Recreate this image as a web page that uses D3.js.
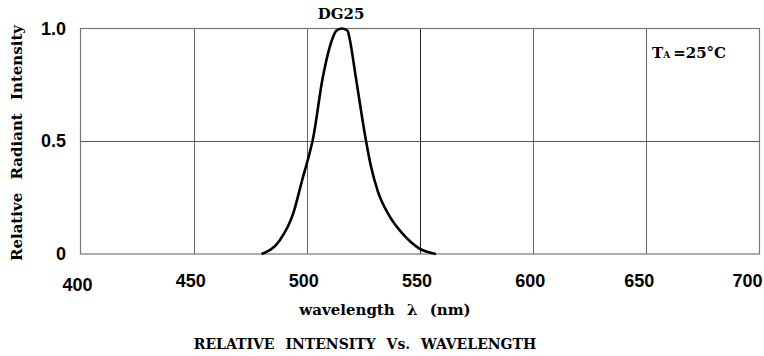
<!DOCTYPE html>
<html>
<head>
<meta charset="utf-8">
<script src="https://cdn.jsdelivr.net/npm/d3@7"></script>
<style>
  body { margin: 0; background: #fff; }
  text { fill: #000; }
  .serif { font-family: "DejaVu Serif", serif; font-weight: bold; }
  .sans { font-family: "Liberation Sans", Arial, sans-serif; font-weight: bold; }
</style>
</head>
<body>
<svg id="chart" width="764" height="356"></svg>
<script>
// spectrum of DG25
const wavelength = [480, 488, 494, 498, 500.5, 502.7, 507, 511.5, 513, 515.5, 518, 518.8, 521.7, 526, 528.3, 531.3, 536.4, 542.3, 549.6, 557];
const intensity = [0, 0.06, 0.18, 0.33, 0.42, 0.51, 0.78, 0.96, 0.99, 1.0, 0.99, 0.96, 0.78, 0.51, 0.39, 0.28, 0.17, 0.09, 0.025, 0];

const xTicks = [400, 450, 500, 550, 600, 650, 700];
const yTicks = [0, 0.5, 1.0];
const yTickLabels = ["0", "0.5", "1.0"];

const svg = d3.select("#chart");

// plot box
const plotL = 80.5, plotR = 759.5, plotT = 28.5, plotB = 254;

const x = d3.scaleLinear().domain([400, 700]).range([plotL, plotR]);
const y = d3.scaleLinear().domain([0, 1]).range([plotB, plotT]);

// grid lines
svg.append("g")
  .selectAll("line")
  .data(xTicks.slice(1, -1))
  .enter()
  .append("line")
  .attr("x1", (d) => Math.round(x(d)) + 0.5)
  .attr("x2", (d) => Math.round(x(d)) + 0.5)
  .attr("y1", plotT)
  .attr("y2", plotB)
  .attr("stroke", (d) => (d === 550 ? "#222" : "#666"))
  .attr("stroke-width", 1);

svg.append("line")
  .attr("x1", plotL).attr("x2", plotR)
  .attr("y1", Math.round(y(0.5)) + 0.5).attr("y2", Math.round(y(0.5)) + 0.5)
  .attr("stroke", "#555");

// frame
svg.append("rect")
  .attr("x", plotL).attr("y", plotT)
  .attr("width", plotR - plotL).attr("height", plotB - plotT)
  .attr("fill", "none")
  .attr("stroke", "#777")
  .attr("stroke-width", 1.2);

// x tick labels: first sits lower, the last ones drift left to stay in the page
svg.append("g")
  .selectAll("text")
  .data(xTicks)
  .enter()
  .append("text")
  .attr("class", "sans")
  .attr("x", (d) => {
    if (d === 700) return x(d) - 12;
    if (d === 650) return x(d) - 7;
    return x(d) - 3;
  })
  .attr("y", (d, i) => (i === 0 ? 291 : 287))
  .attr("text-anchor", "middle")
  .style("font-size", "18px")
  .text((d) => d);

// y tick labels
svg.append("g")
  .selectAll("text")
  .data(yTicks)
  .enter()
  .append("text")
  .attr("class", "sans")
  .attr("x", 66)
  .attr("y", (d) => y(d) + 6)
  .attr("text-anchor", "end")
  .style("font-size", "18px")
  .text((d, i) => yTickLabels[i]);

// curve
const line = d3.line()
  .x((d, i) => x(wavelength[i]))
  .y((d) => y(d))
  .curve(d3.curveMonotoneX);

svg.append("path")
  .datum(intensity)
  .attr("d", line)
  .attr("fill", "none")
  .attr("stroke", "#000")
  .attr("stroke-width", 2.6)
  .attr("stroke-linejoin", "round");

// labels
svg.append("text")
  .attr("class", "serif")
  .attr("x", 341).attr("y", 19)
  .attr("text-anchor", "middle")
  .style("font-size", "15px")
  .text("DG25");

const ta = svg.append("text")
  .attr("class", "serif")
  .attr("x", 652).attr("y", 58)
  .style("font-size", "15px");
ta.append("tspan").text("T");
ta.append("tspan").style("font-size", "9px").text("A");
ta.append("tspan").text("\u2009=25\u00b0C");

svg.append("text")
  .attr("class", "serif")
  .attr("transform", "translate(22,143) rotate(-90)")
  .attr("text-anchor", "middle")
  .style("font-size", "15px")
  .style("word-spacing", "8px")
  .text("Relative Radiant Intensity");

svg.append("text")
  .attr("class", "serif")
  .attr("x", 385).attr("y", 315)
  .attr("text-anchor", "middle")
  .style("font-size", "15px")
  .style("word-spacing", "7px")
  .text("wavelength \u03bb (nm)");

svg.append("text")
  .attr("class", "serif")
  .attr("x", 365).attr("y", 349)
  .attr("text-anchor", "middle")
  .style("font-size", "14px")
  .style("word-spacing", "6px")
  .text("RELATIVE INTENSITY Vs. WAVELENGTH");
</script>
</body>
</html>
